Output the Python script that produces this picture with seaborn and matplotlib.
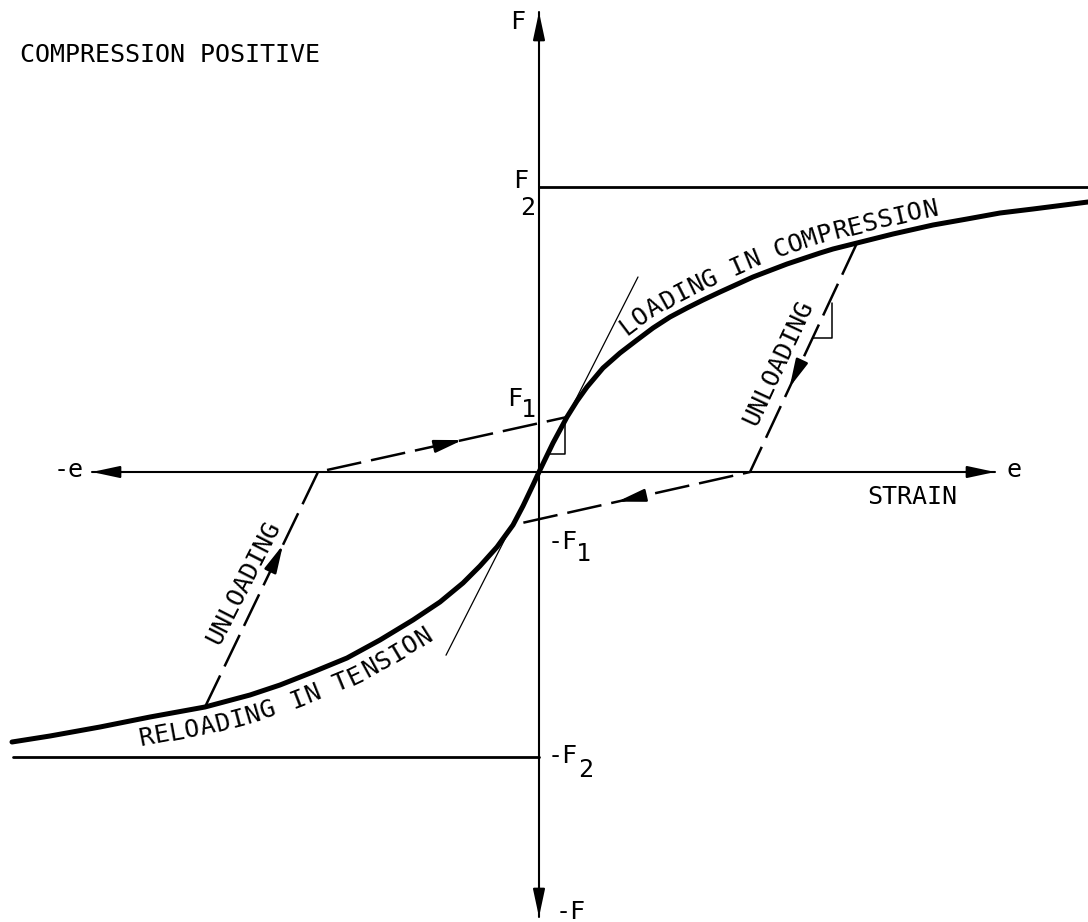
import numpy as np
import matplotlib
matplotlib.use("Agg")
import matplotlib.pyplot as plt
import seaborn as sns

# Force-strain backbone curve (compression positive), strain / force in drawing units
strain = [-527, -489, -439, -389, -334, -289, -259, -226, -192, -159, -126, -99, -76,
          -59, -42, -26, -16, -6, 0, 14, 28, 38, 48, 64, 81, 98, 114, 131, 148, 164,
          181, 214, 248, 281, 294, 318, 354, 394, 428, 461, 494, 549]
force = [-270, -264, -255, -245, -235, -223, -213, -200, -186, -168, -148, -130, -111,
         -94, -75, -53, -34, -13, 0, 29, 55, 71, 85, 104, 119, 132, 144, 155, 164, 172,
         180, 195, 208, 219, 223, 229, 238, 247, 253, 259, 263, 270]

# Unloading from compression, then reloading towards -F1
unload_comp_x = [318, 211, -26]
unload_comp_y = [229, 0, -53]
# Unloading from tension, then reloading towards F1
unload_tens_x = [-334, -221, 28]
unload_tens_y = [-235, 0, 55]

F1 = 55
F2 = 285
tangent_slope = 1.97
tangent_x = [-93, 99]

sns.set_theme(style="white")
plt.rcParams["font.family"] = ["DejaVu Sans Mono", "DejaVu Sans"]

W, H = 1088, 922
fig = plt.figure(figsize=(W / 100, H / 100), dpi=100)
ax = fig.add_axes([0, 0, 1, 1])
ax.set_xlim(-539, 549)
ax.set_ylim(-450, 472)
ax.set_aspect("equal")
ax.axis("off")

FS = 18
txt = dict(color="black", fontsize=FS)

# Coordinate axes with arrowheads
ax.plot([-447, 456], [0, 0], color="black", lw=1.5)
ax.plot([0, 0], [-445, 460], color="black", lw=1.5)
head = dict(arrowstyle="-|>,head_length=1.4,head_width=0.3", color="black",
            lw=1.5, mutation_scale=12, shrinkA=0, shrinkB=0)
for tip, base in [((0, 460), (0, 430)), ((0, -445), (0, -415)),
                  ((-447, 0), (-417, 0)), ((456, 0), (426, 0))]:
    ax.annotate("", xy=tip, xytext=base, arrowprops=head)

# Limit forces
ax.plot([0, 549], [F2, F2], color="black", lw=2.0)
ax.plot([-526, 0], [-F2, -F2], color="black", lw=2.0)

# Initial tangent
tx = np.array(tangent_x, dtype=float)
ax.plot(tx, tangent_slope * tx, color="black", lw=0.9)

# Backbone curve
sns.lineplot(x=strain, y=force, sort=False, estimator=None, color="black",
             lw=3.6, ax=ax, solid_capstyle="round", solid_joinstyle="round")

# Unloading / reloading paths
dash = (0, (14, 4))
sns.lineplot(x=unload_comp_x, y=unload_comp_y, sort=False, estimator=None,
             color="black", lw=1.8, linestyle=dash, ax=ax)
sns.lineplot(x=unload_tens_x, y=unload_tens_y, sort=False, estimator=None,
             color="black", lw=1.8, linestyle=dash, ax=ax)


def path_arrow(x0, y0, x1, y1, frac):
    """Arrowhead on the segment (x0,y0)->(x1,y1), tip at fraction frac."""
    tx_, ty_ = x0 + (x1 - x0) * frac, y0 + (y1 - y0) * frac
    d = np.hypot(x1 - x0, y1 - y0)
    ux, uy = (x1 - x0) / d, (y1 - y0) / d
    ax.annotate("", xy=(tx_, ty_), xytext=(tx_ - 26 * ux, ty_ - 26 * uy),
                arrowprops=dict(arrowstyle="-|>,head_length=1.4,head_width=0.32",
                                color="black", lw=1.8, mutation_scale=12,
                                shrinkA=0, shrinkB=0))


path_arrow(unload_comp_x[0], unload_comp_y[0], unload_comp_x[1], unload_comp_y[1], 0.63)
path_arrow(unload_comp_x[1], unload_comp_y[1], unload_comp_x[2], unload_comp_y[2], 0.56)
path_arrow(unload_tens_x[0], unload_tens_y[0], unload_tens_x[1], unload_tens_y[1], 0.69)
path_arrow(unload_tens_x[1], unload_tens_y[1], unload_tens_x[2], unload_tens_y[2], 0.58)

# Slope triangles
ax.plot([9, 26, 26], [18, 18, 52], color="black", lw=1.1)
ax.plot([274, 293, 293], [134, 134, 169], color="black", lw=1.1)


def curve_text(text, xs, ys, start, end, offset):
    """Lay out text letter by letter along the polyline (xs, ys)."""
    pts = np.column_stack([xs, ys]).astype(float)
    seg = np.diff(pts, axis=0)
    cum = np.concatenate([[0], np.cumsum(np.hypot(seg[:, 0], seg[:, 1]))])
    ss = np.linspace(0, cum[-1], 5000)
    px = np.interp(ss, cum, pts[:, 0])
    py = np.interp(ss, cum, pts[:, 1])

    def nearest(p):
        return ss[np.argmin(np.hypot(px - p[0], py - p[1]))]

    s0, s1 = nearest(start), nearest(end)
    n = len(text)
    for i, ch in enumerate(text):
        s = s0 + (s1 - s0) * i / (n - 1)
        h = 14
        xa, ya = np.interp(s - h, cum, pts[:, 0]), np.interp(s - h, cum, pts[:, 1])
        xb, yb = np.interp(s + h, cum, pts[:, 0]), np.interp(s + h, cum, pts[:, 1])
        ang = np.arctan2(yb - ya, xb - xa)
        x = np.interp(s, cum, pts[:, 0]) - offset * np.sin(ang)
        y = np.interp(s, cum, pts[:, 1]) + offset * np.cos(ang)
        ax.text(x, y, ch, rotation=np.degrees(ang), rotation_mode="anchor",
                ha="center", va="center", **txt)


curve_text("LOADING IN COMPRESSION", strain, force, (91, 144), (391, 262), 16)
curve_text("RELOADING IN TENSION", strain, force, (-392, -267), (-115, -164), -20)

# Straight labels
ax.text(-519, 417, "COMPRESSION POSITIVE", ha="left", va="center", **txt)
ax.text(239, 109, "UNLOADING", rotation=65, rotation_mode="anchor",
        ha="center", va="center", **txt)
ax.text(-295, -111, "UNLOADING", rotation=63, rotation_mode="anchor",
        ha="center", va="center", **txt)
ax.text(373, -25, "STRAIN", ha="center", va="center", **txt)
ax.text(475, 2, "e", ha="center", va="center", **txt)
ax.text(-470, 2, "-e", ha="center", va="center", **txt)

ax.text(-21, 450, "F", ha="center", va="center", **txt)
ax.text(-18, 291, "F", ha="center", va="center", **txt)
ax.text(-11, 264, "2", ha="center", va="center", **txt)
ax.text(-24, 73, "F", ha="center", va="center", **txt)
ax.text(-11, 62, "1", ha="center", va="center", **txt)
ax.text(24, -70, "-F", ha="center", va="center", **txt)
ax.text(44, -82, "1", ha="center", va="center", **txt)
ax.text(24, -284, "-F", ha="center", va="center", **txt)
ax.text(47, -298, "2", ha="center", va="center", **txt)
ax.text(32, -440, "-F", ha="center", va="center", **txt)

fig.savefig("out.png", dpi=100, facecolor="white")
